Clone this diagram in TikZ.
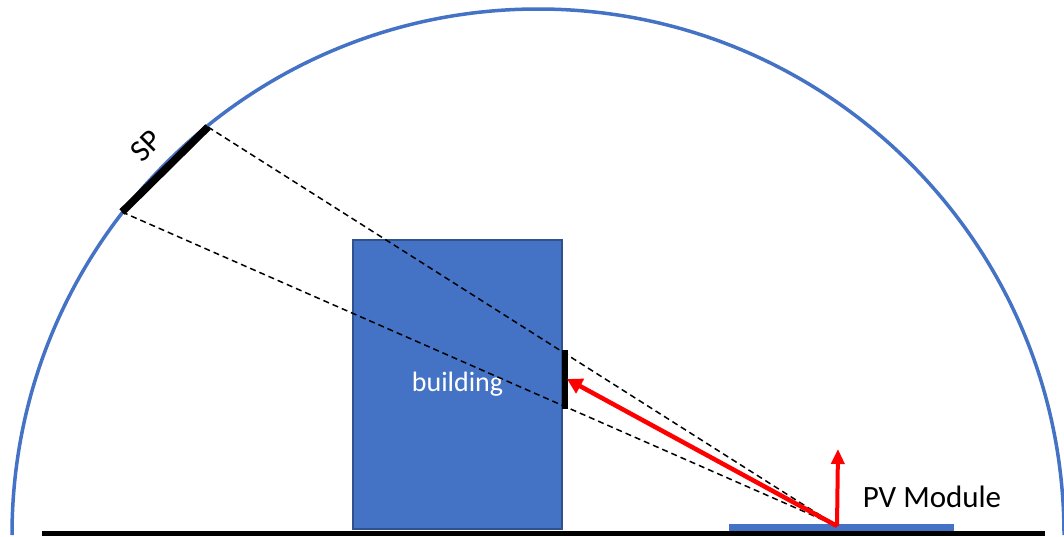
\documentclass[tikz,border=0pt]{standalone}
\usepackage{fontspec}
\setmainfont{Carlito}
\usetikzlibrary{positioning,arrows.meta}
\definecolor{skyblue}{HTML}{4472C4}
\definecolor{edgeblue}{HTML}{2F528F}

\begin{document}
\begin{tikzpicture}[
    x=1pt, y=-1pt,
    house/.style={
        draw=edgeblue,
        line width=1.5pt,
        fill=skyblue,
        minimum width=209pt,
        minimum height=289pt,
        inner sep=0pt,
        text=white,
        font=\fontsize{28}{28}\selectfont
    },
    panel/.style={
        fill=skyblue,
        minimum width=225pt,
        minimum height=7pt,
        inner sep=0pt
    },
    sky/.style={draw=skyblue, line width=3.5pt},
    ray/.style={line width=1.5pt, dash pattern=on 6pt off 4pt},
    bar/.style={line width=7.5pt},
    arrow/.style={-{Triangle[length=15pt,width=16pt]}, draw=red, line width=4.5pt},
    label/.style={font=\fontsize{31}{31}\selectfont}
]
\useasboundingbox (0,0) rectangle (1064,536);

% Himmel
\draw[sky] (12,535) arc[start angle=180, end angle=360, radius=526];

% Gebaeude und Modul
\node[house] (building) at (457.5,384.5) {building};
\node[panel] (module) at (841.5,527.5) {};

% Punkte
\coordinate (sp-top) at (208,127);
\coordinate (sp-bot) at (122,212);
\coordinate (win-top) at (565,350);
\coordinate (win-bot) at (565,409);
\coordinate (pv) at (837,526);
\coordinate (ref) at (567,379);
\coordinate (normal) at (838,449);
\coordinate (ground-l) at (42,533.5);
\coordinate (ground-r) at (1045,533.5);

% Sichtstrahlen
\draw[ray] (sp-top) -- (pv);
\draw[ray] (sp-bot) -- (pv);

% Fenster und SP
\draw[bar, line width=6pt] (win-top) -- (win-bot);
\draw[bar] (sp-bot) -- (sp-top);
\node[label, rotate=45] (sp-label) at (146,146) {SP};

% Pfeile
\draw[arrow] (pv) -- (ref);
\draw[arrow, line width=4pt, -{Triangle[length=15pt,width=13pt]}] (pv) -- (normal);

% Boden
\draw[line width=5pt] (ground-l) -- (ground-r);
\node[label] (module-label) at (932,497) {PV Module};

\end{tikzpicture}
\end{document}
